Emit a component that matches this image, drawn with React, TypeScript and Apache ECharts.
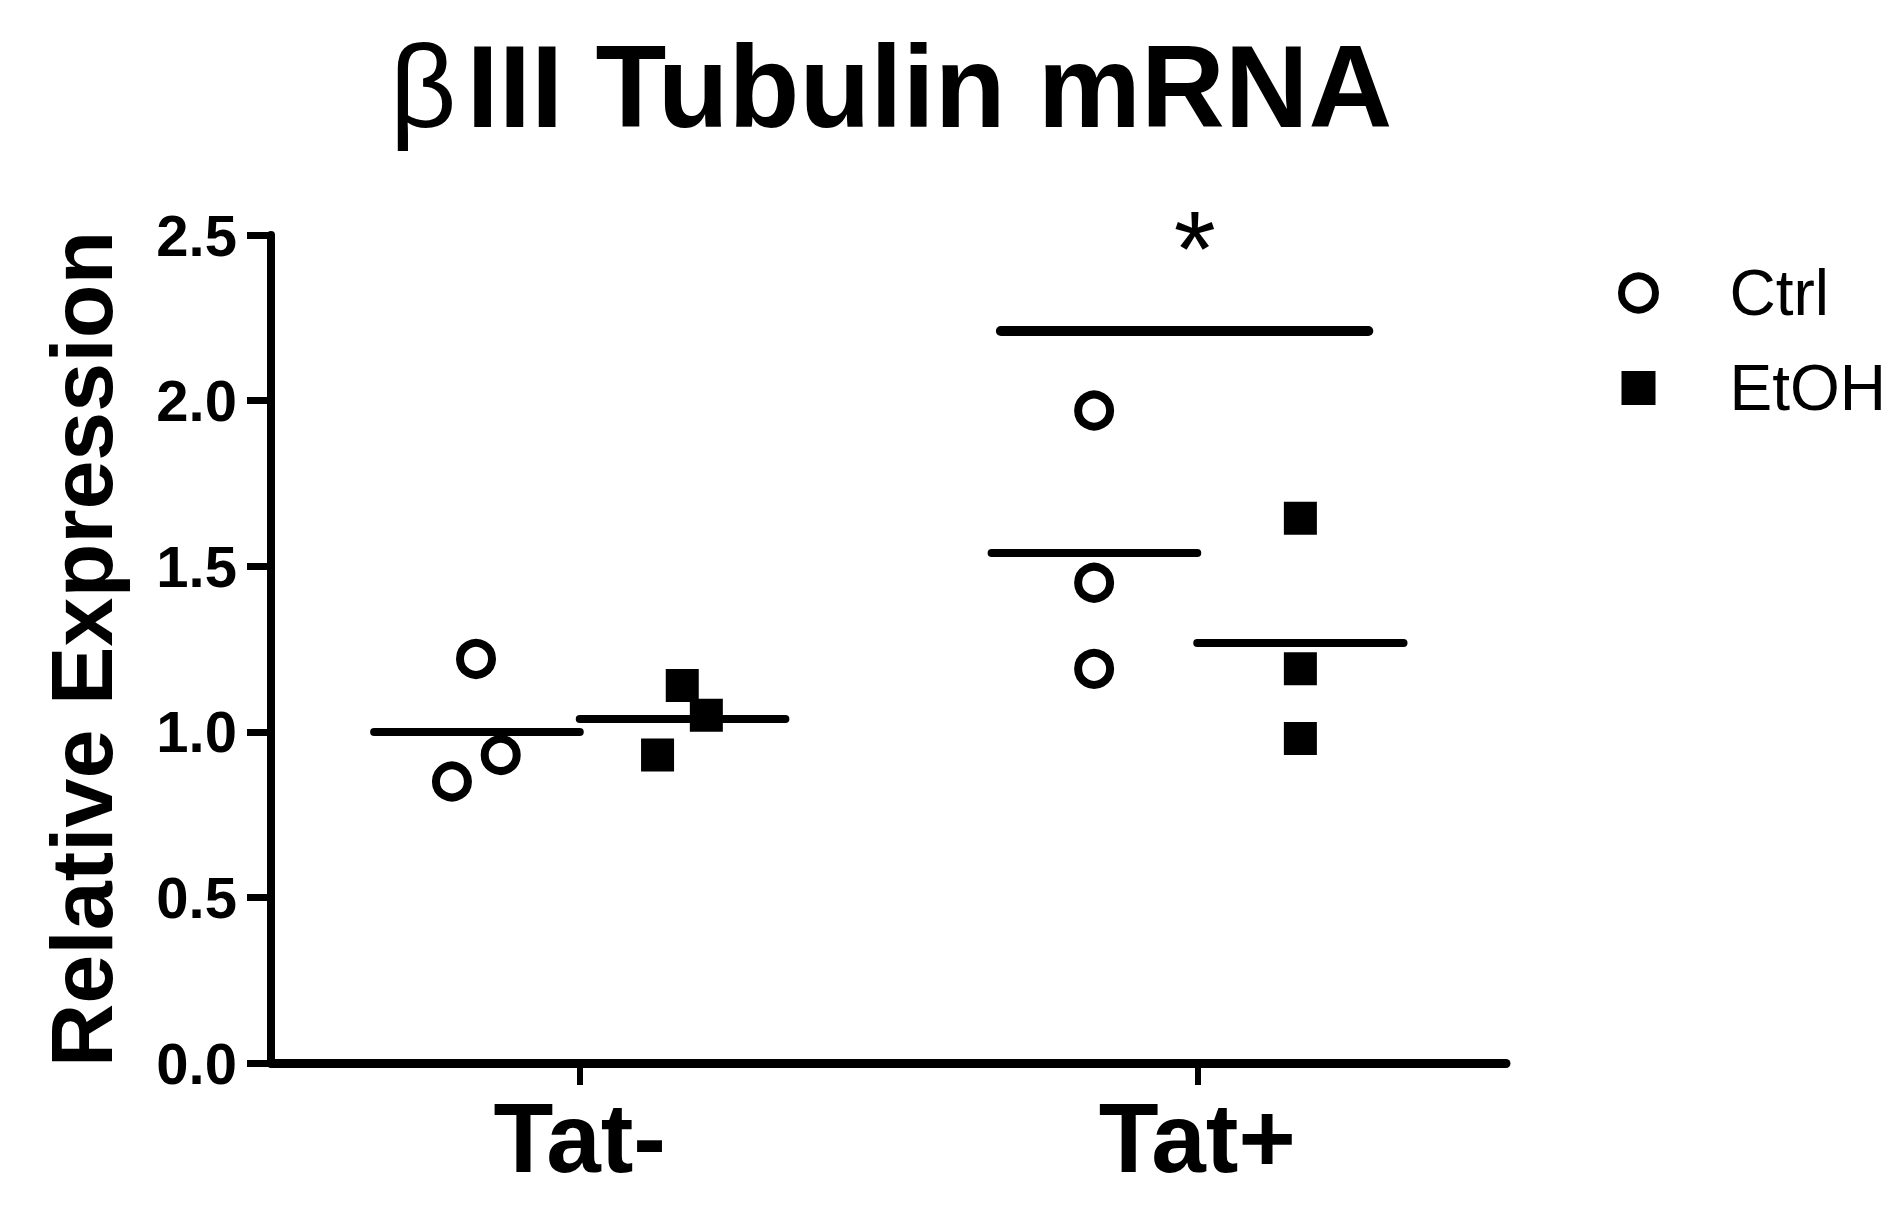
import React, { useEffect, useRef } from "react";
import * as echarts from "echarts";

const categories = ["Tat-", "Tat+"];
const yTicks = { min: 0, max: 2.5, interval: 0.5 };

// individual points: x position (category center 0.5 / 1.5, plus group offset), y value
const ctrlX = [0.332, 0.372, 0.293, 1.333, 1.333, 1.333];
const ctrlY = [1.22, 0.93, 0.85, 1.97, 1.45, 1.19];
const etohX = [0.666, 0.705, 0.626, 1.667, 1.667, 1.667];
const etohY = [1.14, 1.05, 0.93, 1.645, 1.19, 0.98];

// group means and their horizontal extent
const ctrlMean = [1.0, 1.54];
const ctrlMeanX = [
  [0.167, 0.5],
  [1.167, 1.5],
];
const etohMean = [1.04, 1.27];
const etohMeanX = [
  [0.5, 0.833],
  [1.5, 1.834],
];

// significance bar and star
const sigBarX = [1.182, 1.777];
const sigBarY = 2.21;
const sigStar = [1.496, 2.46];

const FONT = "'Liberation Sans', Arial, Helvetica, sans-serif";

export default function App() {
  const ref = useRef<HTMLDivElement>(null);

  useEffect(() => {
    document.body.style.margin = "0";
    if (!ref.current) return;
    const chart = echarts.init(ref.current, undefined, { renderer: "svg" });

    const meanLine = (means: number[], spans: number[][]) =>
      means.map((m, i) => [
        { coord: [spans[i][0], m] },
        { coord: [spans[i][1], m] },
      ]);

    const option: any = {
      animation: false,
      backgroundColor: "#ffffff",
      title: {
        text: "{b|β}III Tubulin mRNA",
        left: 891,
        top: 29,
        textAlign: "center",
        padding: 0,
        textStyle: {
          fontFamily: FONT,
          fontSize: 116,
          fontWeight: "bold",
          color: "#000",
          rich: {
            b: {
              fontFamily: FONT,
              fontSize: 116,
              fontWeight: "normal",
              color: "#000",
              padding: [0, 10, 0, 0],
            },
          },
        },
      },
      legend: {
        orient: "vertical",
        left: 1618,
        top: 261,
        itemWidth: 34,
        itemHeight: 34,
        itemGap: 31,
        selectedMode: false,
        padding: 0,
        textStyle: {
          fontFamily: FONT,
          fontSize: 64,
          color: "#000",
          lineHeight: 64,
          padding: [0, 0, 0, 69],
        },
        data: [
          {
            name: "Ctrl",
            icon: "circle",
            itemStyle: { color: "#fff", borderColor: "#000", borderWidth: 7 },
          },
          {
            name: "EtOH",
            icon: "rect",
            itemStyle: { color: "#000", borderWidth: 0 },
          },
        ],
      },
      grid: {
        left: 271,
        right: 398,
        top: 235,
        bottom: 150,
        containLabel: false,
        outerBoundsMode: "none",
      },
      xAxis: [
        {
          type: "category",
          data: categories,
          boundaryGap: true,
          position: "bottom",
          axisLine: { show: true, lineStyle: { color: "#000", width: 9 } },
          axisTick: {
            show: true,
            alignWithLabel: true,
            length: 22,
            lineStyle: { color: "#000", width: 6 },
          },
          axisLabel: {
            margin: 26,
            fontFamily: FONT,
            fontSize: 98,
            fontWeight: "bold",
            color: "#000",
          },
          splitLine: { show: false },
        },
        {
          type: "value",
          min: 0,
          max: 2,
          show: false,
          splitLine: { show: false },
        },
      ],
      yAxis: {
        type: "value",
        min: yTicks.min,
        max: yTicks.max,
        interval: yTicks.interval,
        name: "Relative Expression",
        nameLocation: "middle",
        nameGap: 146,
        nameTextStyle: {
          fontFamily: FONT,
          fontSize: 88,
          fontWeight: "bold",
          color: "#000",
        },
        axisLine: { show: true, lineStyle: { color: "#000", width: 8 } },
        axisTick: {
          show: true,
          length: 24,
          lineStyle: { color: "#000", width: 7 },
        },
        axisLabel: {
          margin: 34,
          fontFamily: FONT,
          fontSize: 58,
          fontWeight: "bold",
          color: "#000",
          formatter: (v: number) => v.toFixed(1),
        },
        splitLine: { show: false },
      },
      series: [
        {
          name: "Ctrl",
          type: "scatter",
          xAxisIndex: 1,
          symbol: "circle",
          symbolSize: 32,
          itemStyle: { color: "#fff", borderColor: "#000", borderWidth: 8, opacity: 1 },
          data: ctrlX.map((x, i) => [x, ctrlY[i]]),
          z: 3,
          markLine: {
            silent: true,
            symbol: ["none", "none"],
            label: { show: false },
            lineStyle: { color: "#000", width: 8, type: "solid", cap: "round", opacity: 1 },
            data: meanLine(ctrlMean, ctrlMeanX),
          },
        },
        {
          name: "EtOH",
          type: "scatter",
          xAxisIndex: 1,
          symbol: "rect",
          symbolSize: 33,
          itemStyle: { color: "#000", opacity: 1 },
          data: etohX.map((x, i) => [x, etohY[i]]),
          z: 3,
          markLine: {
            silent: true,
            symbol: ["none", "none"],
            label: { show: false },
            lineStyle: { color: "#000", width: 8, type: "solid", cap: "round", opacity: 1 },
            data: meanLine(etohMean, etohMeanX),
          },
        },
        {
          name: "sig",
          type: "scatter",
          xAxisIndex: 1,
          symbol: "circle",
          symbolSize: 1,
          itemStyle: { color: "rgba(255,255,255,0)" },
          silent: true,
          label: {
            show: true,
            position: "inside",
            formatter: "*",
            fontFamily: FONT,
            fontSize: 108,
            fontWeight: "normal",
            color: "#000000",
            opacity: 1,
            textBorderWidth: 0,
          },
          data: [sigStar],
          markLine: {
            silent: true,
            symbol: ["none", "none"],
            label: { show: false },
            lineStyle: { color: "#000", width: 10, type: "solid", cap: "round", opacity: 1 },
            data: [
              [
                { coord: [sigBarX[0], sigBarY] },
                { coord: [sigBarX[1], sigBarY] },
              ],
            ],
          },
        },
      ],
    };

    chart.setOption(option);
    return () => chart.dispose();
  }, []);

  return <div ref={ref} style={{ width: 1904, height: 1213 }} />;
}
